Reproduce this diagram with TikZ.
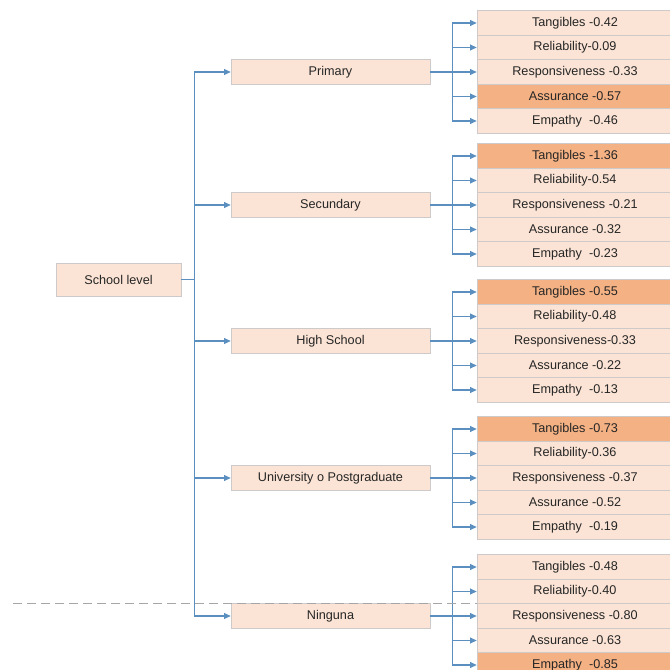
\documentclass[tikz,border=0pt]{standalone}
\usepackage{fontspec}
\setmainfont{Liberation Sans}
\usetikzlibrary{arrows.meta,shadows}

\definecolor{peach}{HTML}{FBE4D5}
\definecolor{peachdark}{HTML}{F4B183}
\definecolor{linkblue}{HTML}{5B8FC0}
\definecolor{boxline}{HTML}{CFCACA}

\begin{document}
\begin{tikzpicture}[
    x=0.75pt, y=-0.75pt,
    every node/.style={font=\fontsize{9.5}{11}\selectfont, text=black!85},
    box/.style={draw=boxline, line width=0.5pt, fill=peach,
        drop shadow={shadow xshift=0.9pt, shadow yshift=-0.9pt, opacity=0.25, fill=gray},
        inner sep=0pt, align=center},
    rootbox/.style={box, minimum width=93.75pt, minimum height=24.75pt},
    levelbox/.style={box, minimum width=149.25pt, minimum height=18.4pt},
    subbox/.style={box, minimum width=147pt, minimum height=18.4pt},
    link/.style={draw=linkblue, line width=0.8pt},
    arrow/.style={link, -{Triangle[length=5pt, width=4.5pt]}}
]

\useasboundingbox (0,0) rectangle (670,670);

% Root
\node[rootbox] (school) at (118.5,279.5) {School level};
\draw[link] (school.east) -- ++(13,0) coordinate (trunk);

% Levels and their five dimensions
\foreach \lvl/\lab/\yy/\hot/\vals in {
    primary/Primary/72/4/{Tangibles -0.42,Reliability-0.09,Responsiveness -0.33,Assurance -0.57,Empathy\ \ -0.46},
    secundary/Secundary/205/1/{Tangibles -1.36,Reliability-0.54,Responsiveness -0.21,Assurance -0.32,Empathy\ \ -0.23},
    high/High School/341/1/{Tangibles -0.55,Reliability-0.48,Responsiveness-0.33,Assurance -0.22,Empathy\ \ -0.13},
    univ/University o Postgraduate/478/1/{Tangibles -0.73,Reliability-0.36,Responsiveness -0.37,Assurance -0.52,Empathy\ \ -0.19},
    ninguna/Ninguna/616/5/{Tangibles -0.48,Reliability-0.40,Responsiveness -0.80,Assurance -0.63,Empathy\ \ -0.85}} {
    \node[levelbox] (\lvl) at (330.5,\yy) {\lab};
    \draw[arrow] (trunk |- \lvl.west) -- (\lvl.west);
    \draw[link] (\lvl.east) -- ++(22,0) coordinate (\lvl-br);
    \foreach \txt [count=\i] in \vals {
        \ifnum\i=\hot \def\fc{peachdark}\else\def\fc{peach}\fi
        \node[subbox, fill=\fc] (\lvl-\i) at (575,{\yy+(\i-3)*24.5}) {\txt};
        \draw[arrow] (\lvl-br |- \lvl-\i.west) -- (\lvl-\i.west);
    }
    \draw[link] (\lvl-br |- \lvl-1.west) -- (\lvl-br |- \lvl-5.west);
}

% Trunk
\draw[link] (trunk |- primary.west) -- (trunk |- ninguna.west);

% Dashed cut line
\draw[gray!70, line width=0.6pt, dash pattern=on 7pt off 3.5pt] (13,603) -- (477,603);

\end{tikzpicture}
\end{document}
